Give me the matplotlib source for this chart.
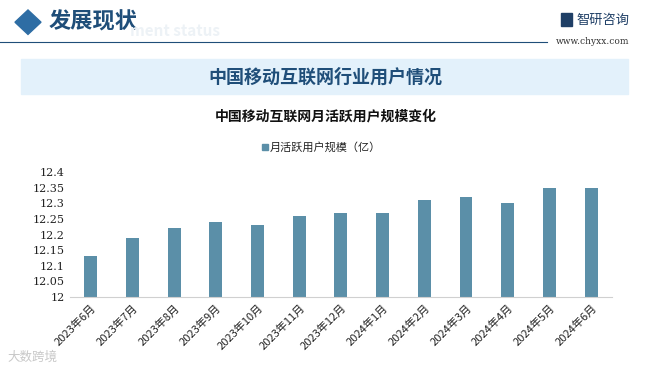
import matplotlib.pyplot as plt
from matplotlib.patches import Rectangle, Polygon

plt.rcParams['font.family'] = ['Noto Sans CJK SC', 'DejaVu Sans']

months = ['2023年6月', '2023年7月', '2023年8月', '2023年9月', '2023年10月', '2023年11月',
          '2023年12月', '2024年1月', '2024年2月', '2024年3月', '2024年4月', '2024年5月',
          '2024年6月']
users = [12.13, 12.19, 12.22, 12.24, 12.23, 12.26, 12.27, 12.27, 12.31, 12.32, 12.30,
         12.35, 12.35]
yticks = [12, 12.05, 12.1, 12.15, 12.2, 12.25, 12.3, 12.35, 12.4]

bar_color = '#5b8fa8'
head_color = '#1f4e79'

fig = plt.figure(figsize=(6.51, 3.70), dpi=100)

# header
fig.add_artist(Polygon([[0.023, 0.94], [0.043, 0.973], [0.063, 0.94], [0.043, 0.907]],
                       closed=True, color='#2e6da4', transform=fig.transFigure))
fig.text(0.075, 0.94, '发展现状', fontsize=16, color=head_color, va='center',
         fontweight='bold')
fig.text(0.2, 0.915, 'ment status', fontsize=11, color='#edf2f6', va='center',
         fontweight='bold')
fig.add_artist(plt.Line2D([0.0, 0.84], [0.886, 0.886], color=head_color, lw=0.8,
                          transform=fig.transFigure))
fig.add_artist(Rectangle((0.862, 0.93), 0.016, 0.035, color='#1f3f66',
                         transform=fig.transFigure))
fig.text(0.885, 0.945, '智研咨询', fontsize=9.5, color='#1f3f66', va='center', ha='left')
fig.text(0.91, 0.888, 'www.chyxx.com', fontsize=6.5, color='#333333', va='center',
         ha='center', family='DejaVu Serif')
fig.add_artist(Rectangle((0.032, 0.745), 0.933, 0.095, color='#e3f1fb',
                         transform=fig.transFigure, zorder=0))
fig.text(0.5, 0.792, '中国移动互联网行业用户情况', fontsize=13, color=head_color,
         ha='center', va='center', fontweight='bold')

# chart title and legend
fig.text(0.5, 0.684, '中国移动互联网月活跃用户规模变化', fontsize=10, ha='center',
         va='center', fontweight='bold', color='#111111')
fig.add_artist(Rectangle((0.403, 0.594), 0.009, 0.016, color=bar_color,
                         transform=fig.transFigure))
fig.text(0.415, 0.601, '月活跃用户规模（亿）', fontsize=8, va='center', color='#222222')

fig.text(0.012, 0.035, '大数跨境', fontsize=9, color='#c8c8c8', va='center')

ax = fig.add_axes([0.1075, 0.197, 0.8325, 0.338])
x = range(len(months))
ax.bar(x, [u - 12 for u in users], bottom=12, width=0.31, color=bar_color)
ax.set_xlim(-0.5, len(months) - 0.5)
ax.set_ylim(12, 12.4)
ax.set_yticks(yticks)
ax.set_yticklabels([f'{v:g}' for v in yticks], fontsize=8, color='#222222',
                   family=['DejaVu Serif'])
ax.set_xticks(list(x))
ax.set_xticklabels(months, rotation=45, ha='right', rotation_mode='anchor', fontsize=8,
                   color='#222222')
ax.tick_params(length=0, pad=4)
for s in ['top', 'right', 'left']:
    ax.spines[s].set_visible(False)
ax.spines['bottom'].set_color('#d0d0d0')
ax.patch.set_alpha(0)

fig.savefig('out.png', dpi=100)
